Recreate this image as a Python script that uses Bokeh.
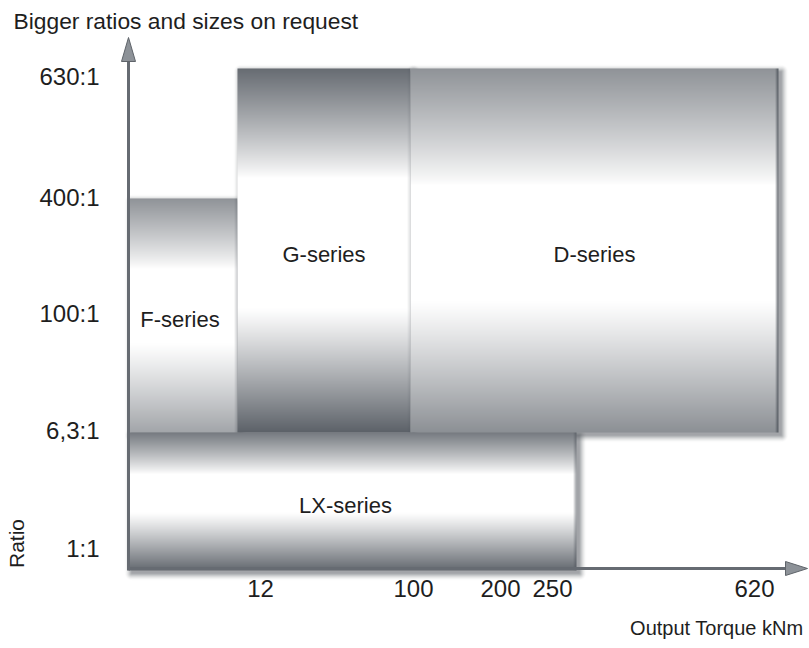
import numpy as np
from bokeh.plotting import figure
from bokeh.models import Range1d
from bokeh.embed import file_html
from bokeh.resources import INLINE
from bokeh.core.properties import value

# ---------------- data (schematic chart coordinates) ----------------
series = ["F-series", "G-series", "D-series", "LX-series"]
torque_start = [0, 109, 282, 0]
torque_end = [109, 282, 650, 448]
ratio_start = [136, 136, 136, -2]
ratio_end = [370, 500, 500, 136]

torque_tick_pos = [132, 285, 372, 424, 626]
torque_tick_labels = ["12", "100", "200", "250", "620"]
ratio_tick_pos = [18, 136, 253, 369, 490]
ratio_tick_labels = ["1:1", "6,3:1", "100:1", "400:1", "630:1"]

title_text = "Bigger ratios and sizes on request"
x_title = "Output Torque kNm"
y_title = "Ratio"

# ---------------- styles ----------------
FONT = value("Liberation Sans")
TXT = "#1e1e1e"
DARK = (70, 76, 84)
shade_style = {
    "F-series": dict(top=0.60, fade=0.30, bstart=0.62, bot=0.50, edge=0.25),
    "G-series": dict(top=0.82, fade=0.30, bstart=0.66, bot=0.88, edge=0.15),
    "D-series": dict(top=0.60, fade=0.32, bstart=0.64, bot=0.62, edge=0.75),
    "LX-series": dict(top=0.74, fade=0.30, bstart=0.58, bot=0.84, edge=0.45),
}
label_nudge_x = {"F-series": -3, "G-series": 0, "D-series": 0, "LX-series": -7}


def to_rgba(r, g, b, a):
    h, w = r.shape
    img = np.empty((h, w), dtype=np.uint32)
    v = img.view(dtype=np.uint8).reshape((h, w, 4))
    v[:, :, 0] = r
    v[:, :, 1] = g
    v[:, :, 2] = b
    v[:, :, 3] = a
    return img


def shade_image(w, h, top, fade, bstart, bot, edge):
    t = 1 - (np.arange(h) + 0.5) / h  # row 0 is the bottom of the box
    d_top = top * np.clip(1 - t / fade, 0, 1) ** 0.9
    d_bot = bot * np.clip((t - bstart) / (1 - bstart), 0, 1) ** 1.1
    d = np.clip(d_top + d_bot, 0, 1)[:, None] * np.ones((1, w))
    xs = np.arange(w)
    e = np.clip(1 - (w - 1 - xs) / 3.0, 0, 1) * edge
    d = np.clip(d + e[None, :] * (1 - d), 0, 1)
    chans = [(255 * (1 - d) + DARK[k] * d).astype(np.uint8) for k in range(3)]
    return to_rgba(*chans, np.full((h, w), 255, dtype=np.uint8))


def shadow_image(w, h, m, off, blur, amax):
    H, W = h + 2 * m, w + 2 * m
    px = np.arange(W) - m + 0.5
    py = np.arange(H) - m + 0.5
    dx = np.maximum(np.maximum(off - px, 0), px - (w + off))
    dy = np.maximum(np.maximum(-off - py, 0), py - (h - off))
    dist = np.hypot(dx[None, :], dy[:, None])
    a = (amax * np.clip(1 - dist / blur, 0, 1) ** 1.6 * 255).astype(np.uint8)
    c = np.full((H, W), 1, dtype=np.uint8)
    return to_rgba(c * 85, c * 90, c * 96, a)


p = figure(width=809, height=648, x_range=Range1d(-128, 681), y_range=Range1d(-80, 568),
           x_axis_type=None, y_axis_type=None,
           output_backend="svg", toolbar_location=None,
           min_border_left=0, min_border_right=0, min_border_top=0, min_border_bottom=0)
p.outline_line_color = None
p.grid.visible = False
p.background_fill_color = "white"
p.border_fill_color = "white"

# shadows
M = 12
for x0, x1, y0, y1 in zip(torque_start, torque_end, ratio_start, ratio_end):
    w, h = x1 - x0, y1 - y0
    p.image_rgba(image=[shadow_image(w, h, M, 3, 7, 0.55)], x=x0 - M, y=y0 - M, dw=w + 2 * M, dh=h + 2 * M)

# boxes
for name, x0, x1, y0, y1 in zip(series, torque_start, torque_end, ratio_start, ratio_end):
    w, h = x1 - x0, y1 - y0
    p.image_rgba(image=[shade_image(w, h, **shade_style[name])], x=x0, y=y0, dw=w, dh=h)

cx = [(a + b) / 2 for a, b in zip(torque_start, torque_end)]
cy = [(a + b) / 2 for a, b in zip(ratio_start, ratio_end)]
p.text(x=cx, y=cy, text=series, text_align="center", text_baseline="middle", y_offset=4,
       x_offset=[label_nudge_x[s] for s in series],
       text_font=FONT, text_font_size="22px", text_color=TXT)

# axis arrows
x_end, y_end = 679, 531
AX = "#666b72"
p.line([0, 0], [-2, y_end - 24], line_color=AX, line_width=3)
p.line([0, x_end - 22], [0, 0], line_color=AX, line_width=3)
p.patch([-7, 7, 0], [y_end - 24, y_end - 24, y_end], fill_color="#8d9298", line_color="#5f646a", line_width=1)
p.patch([x_end - 22, x_end - 22, x_end], [7, -7, 0], fill_color="#8d9298", line_color="#5f646a", line_width=1)

# tick labels
p.text(x=torque_tick_pos, y=[-20] * len(torque_tick_pos), text=torque_tick_labels,
       text_align="center", text_baseline="middle",
       text_font=FONT, text_font_size="24px", text_color=TXT)
p.text(x=[-29] * len(ratio_tick_pos), y=ratio_tick_pos, text=ratio_tick_labels,
       text_align="right", text_baseline="middle", y_offset=-2,
       text_font=FONT, text_font_size="24px", text_color=TXT)

# titles
p.text(x=[-115], y=[548], text=[title_text], text_align="left", text_baseline="middle",
       text_font=FONT, text_font_size="22.8px", text_color=TXT)
p.text(x=[-112], y=[25], text=[y_title], angle=np.pi / 2, text_align="center", text_baseline="middle",
       text_font=FONT, text_font_size="21px", text_color=TXT)
p.text(x=[675], y=[-59], text=[x_title], text_align="right", text_baseline="middle",
       text_font=FONT, text_font_size="20px", text_color=TXT)

open("out.html", "w").write(file_html(p, INLINE))
